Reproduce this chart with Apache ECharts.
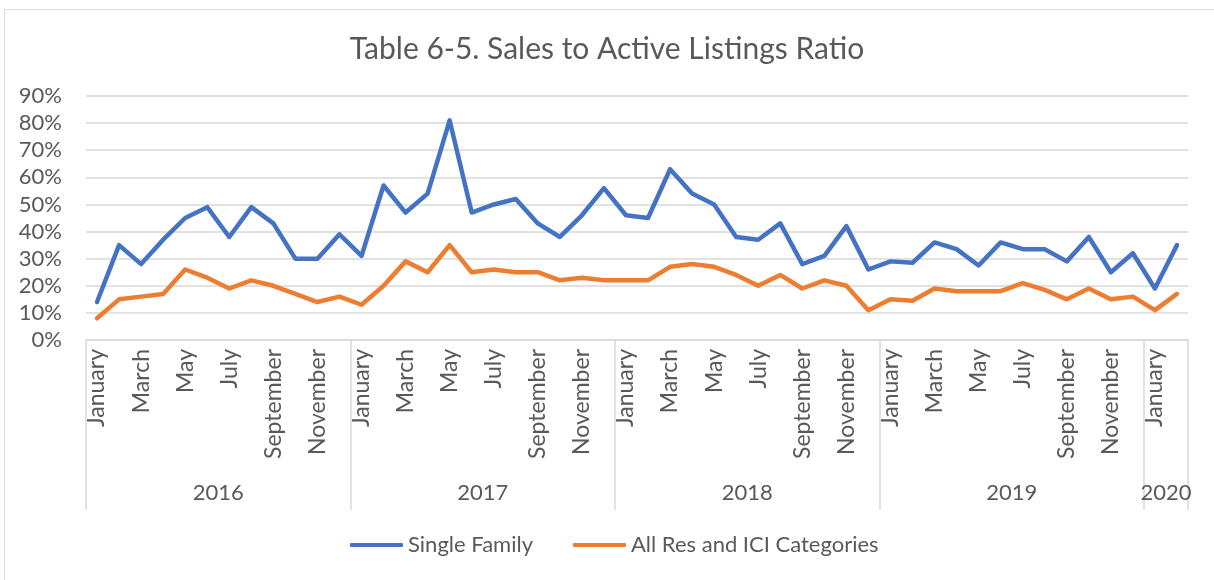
<!DOCTYPE html>
<html>
<head>
<meta charset="utf-8">
<script src="https://cdn.jsdelivr.net/npm/echarts@6/dist/echarts.min.js"></script>
<style>
html,body{margin:0;padding:0;background:#fff;overflow:hidden;}
#frame{position:absolute;left:4px;top:9px;width:1230px;height:600px;border:1px solid #d9d9d9;box-sizing:border-box;}
#chart{position:absolute;left:0;top:0;width:1214px;height:580px;}
</style>
</head>
<body>
<div id="frame"></div>
<div id="chart"></div>
<script>
const monthNames = ['January','February','March','April','May','June','July','August','September','October','November','December'];
const years = ['2016','2017','2018','2019','2020'];
const monthsPerYear = [12,12,12,12,2];
const singleFamily = [
  0.14,0.35,0.28,0.37,0.45,0.49,0.38,0.49,0.43,0.30,0.30,0.39,
  0.31,0.57,0.47,0.54,0.81,0.47,0.50,0.52,0.43,0.38,0.46,0.56,
  0.46,0.45,0.63,0.54,0.50,0.38,0.37,0.43,0.28,0.31,0.42,0.26,
  0.29,0.285,0.36,0.335,0.275,0.36,0.335,0.335,0.29,0.38,0.25,0.32,
  0.19,0.35
];
const allRes = [
  0.08,0.15,0.16,0.17,0.26,0.23,0.19,0.22,0.20,0.17,0.14,0.16,
  0.13,0.20,0.29,0.25,0.35,0.25,0.26,0.25,0.25,0.22,0.23,0.22,
  0.22,0.22,0.27,0.28,0.27,0.24,0.20,0.24,0.19,0.22,0.20,0.11,
  0.15,0.145,0.19,0.18,0.18,0.18,0.21,0.185,0.15,0.19,0.15,0.16,
  0.11,0.17
];
const yTicks = [0,0.1,0.2,0.3,0.4,0.5,0.6,0.7,0.8,0.9];

// build categories and year boundaries from arrays
const categories = [];
const yearBounds = [0];
const yearMids = [];
let acc = 0;
monthsPerYear.forEach((n) => {
  for (let m = 0; m < n; m++) categories.push(monthNames[m]);
  yearMids.push(acc + n / 2);
  acc += n;
  yearBounds.push(acc);
});

const txt = '#595959';
const grid = '#d9d9d9';
const font = 'Lato, "Open Sans", sans-serif';

const chart = echarts.init(document.getElementById('chart'), null, {renderer:'canvas'});
chart.setOption({
  animation: false,
  title: {
    text: 'Table 6-5. Sales to Active Listings Ratio',
    left: 'center', top: 29,
    textStyle: {color: txt, fontSize: 30, fontWeight: 'normal', fontFamily: font}
  },
  legend: {
    bottom: 19, left: 345,
    itemWidth: 53, itemHeight: 4, itemGap: 40, icon: 'roundRect',
    textStyle: {color: txt, fontSize: 22, fontFamily: font},
    data: ['Single Family', 'All Res and ICI Categories']
  },
  grid: {left: 86, right: 26, top: 96, bottom: 240, containLabel: false},
  xAxis: [
    {
      type: 'category', data: categories, boundaryGap: true,
      axisLine: {lineStyle: {color: grid, width: 1.5}},
      axisTick: {show: false},
      axisLabel: {
        interval: 1, rotate: 90, margin: 9,
        color: txt, fontSize: 23, fontFamily: font
      }
    },
    {
      type: 'value', min: 0, max: acc, position: 'bottom',
      axisLine: {show: false},
      splitLine: {show: false},
      axisTick: {
        show: true, customValues: yearBounds, length: 170,
        lineStyle: {color: grid, width: 1.5}
      },
      axisLabel: {
        show: true, customValues: yearMids, margin: 142,
        color: txt, fontSize: 22, fontFamily: font,
        formatter: (v) => years[yearMids.indexOf(v)]
      }
    }
  ],
  yAxis: {
    type: 'value', min: 0, max: 0.9, interval: 0.1,
    axisLine: {show: false}, axisTick: {show: false},
    splitLine: {lineStyle: {color: grid, width: 1.5}},
    axisLabel: {
      color: txt, fontSize: 22, fontFamily: font, margin: 24,
      formatter: (v) => Math.round(v * 100) + '%'
    }
  },
  series: [
    {
      name: 'Single Family', type: 'line', data: singleFamily, xAxisIndex: 0,
      symbol: 'none', lineStyle: {color: '#4472C4', width: 4.5, cap: 'round', join: 'round'},
      itemStyle: {color: '#4472C4'}
    },
    {
      name: 'All Res and ICI Categories', type: 'line', data: allRes, xAxisIndex: 0,
      symbol: 'none', lineStyle: {color: '#ED7D31', width: 4.5, cap: 'round', join: 'round'},
      itemStyle: {color: '#ED7D31'}
    }
  ]
});
</script>
</body>
</html>
